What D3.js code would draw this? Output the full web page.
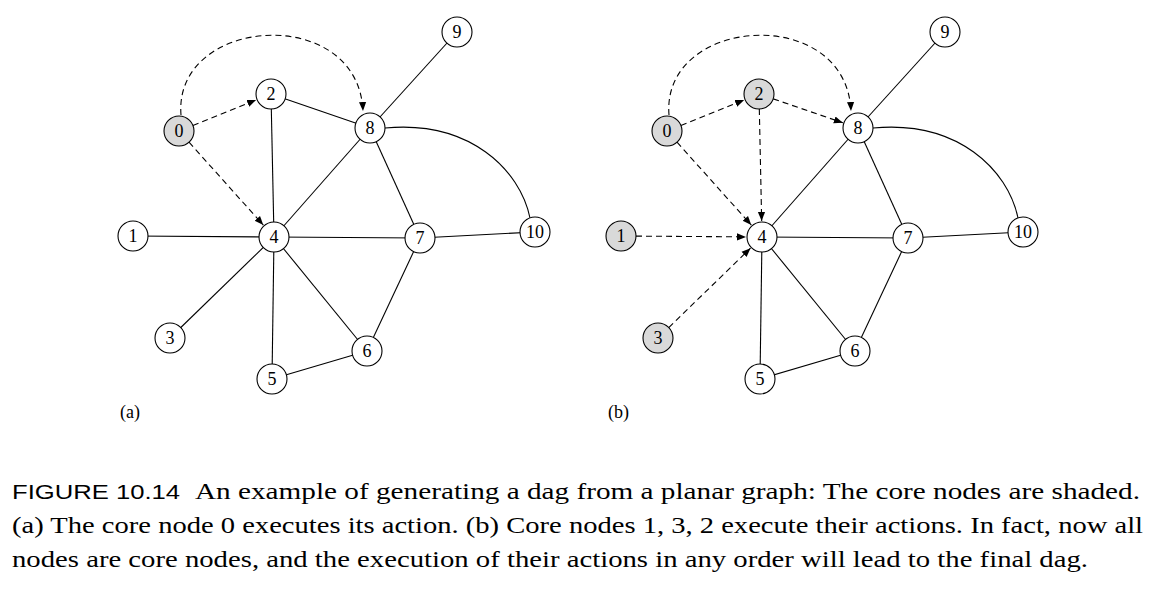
<!DOCTYPE html>
<html><head><meta charset="utf-8">
<script src="https://cdn.jsdelivr.net/npm/d3@7"></script>
<style>body{margin:0;background:#fff}</style>
</head><body>
<script>
// node layout (graph coordinates, panel a)
const nodeIds = [0,1,2,3,4,5,6,7,8,9,10];
const nodeX = [179,133,271,170,274,272,367,420,370,457,535];
const nodeY = [131,236,94,338,237,379,351,238,128,32,232];
const shadedA = [0];
const shadedB = [0,1,2,3];
const solidA = [[2,4],[2,8],[1,4],[4,8],[4,7],[4,3],[4,5],[4,6],[8,9],[8,7],[7,6],[7,10],[5,6]];
const dashedA = [[0,2],[0,4]];
const solidB = [[4,8],[4,7],[4,5],[4,6],[8,9],[8,7],[7,6],[7,10],[5,6]];
const dashedB = [[0,2],[2,8],[2,4],[0,4],[1,4],[3,4]];
const panelOffset = [0,488];
const panelLabels = ['(a)','(b)'];
const caption = [
  'An example of generating a dag from a planar graph: The core nodes are shaded.',
  '(a) The core node 0 executes its action. (b) Core nodes 1, 3, 2 execute their actions. In fact, now all',
  'nodes are core nodes, and the execution of their actions in any order will lead to the final dag.'
];
const captionWidths = [945,1131,1076];

const W=1153,H=590,R=15;
const svg=d3.select('body').append('svg').attr('width',W).attr('height',H);
svg.append('defs').append('marker').attr('id','ah').attr('viewBox','0 0 10 10')
  .attr('refX',10).attr('refY',5).attr('markerWidth',9).attr('markerHeight',9)
  .attr('markerUnits','userSpaceOnUse').attr('orient','auto')
  .append('path').attr('d','M0,1L10,5L0,9Z').attr('fill','#000');

const x=d3.scaleLinear().domain([0,1]).range([0,1]);
const y=d3.scaleLinear().domain([0,1]).range([0,1]);

[[solidA,dashedA,shadedA],[solidB,dashedB,shadedB]].forEach(([sol,dash,sh],p)=>{
  const g=svg.append('g').attr('transform',`translate(${panelOffset[p]},0)`);
  const px=i=>x(nodeX[i]), py=i=>y(nodeY[i]);
  g.selectAll('.s').data(sol).enter().append('line')
    .attr('x1',d=>px(d[0])).attr('y1',d=>py(d[0])).attr('x2',d=>px(d[1])).attr('y2',d=>py(d[1]))
    .attr('stroke','#000').attr('stroke-width',1.1);
  g.selectAll('.d').data(dash).enter().append('line')
    .each(function(d){
      const x1=px(d[0]),y1=py(d[0]),x2=px(d[1]),y2=py(d[1]);
      const L=Math.hypot(x2-x1,y2-y1),ux=(x2-x1)/L,uy=(y2-y1)/L;
      d3.select(this).attr('x1',x1+ux*R).attr('y1',y1+uy*R).attr('x2',x2-ux*(R+1)).attr('y2',y2-uy*(R+1));
    })
    .attr('stroke','#000').attr('stroke-width',1.1).attr('stroke-dasharray','6,4').attr('marker-end','url(#ah)');
  g.append('path').attr('d',`M${px(8)+15},${py(8)} C${px(8)+100},${py(8)-8} ${px(10)-15},${py(10)-62} ${px(10)-5},${py(10)-14}`)
    .attr('fill','none').attr('stroke','#000').attr('stroke-width',1.1);
  g.append('path').attr('d',`M${px(0)+2},${py(0)-16} C${px(0)-6},${py(0)-115} ${px(8)-12},${py(8)-125} ${px(8)-7},${py(8)-17}`)
    .attr('fill','none').attr('stroke','#000').attr('stroke-width',1.1).attr('stroke-dasharray','6,4').attr('marker-end','url(#ah)');
  const n=g.selectAll('.n').data(nodeIds).enter().append('g');
  n.append('circle').attr('cx',px).attr('cy',py).attr('r',R)
    .attr('fill',d=>sh.includes(d)?'#d9d9d9':'#fff').attr('stroke','#000').attr('stroke-width',1.1);
  n.append('text').attr('x',px).attr('y',d=>py(d)+6).attr('text-anchor','middle')
    .attr('font-family','Liberation Serif').attr('font-size',18).text(d=>d);
  g.append('text').attr('x',120).attr('y',418).attr('font-family','Liberation Serif').attr('font-size',18).text(panelLabels[p]);
});

const cap=svg.append('g').attr('font-family','Liberation Serif').attr('font-size',23);
cap.append('text').attr('x',12).attr('y',499).attr('font-family','Liberation Sans').attr('font-size',20)
  .attr('textLength',168).attr('lengthAdjust','spacingAndGlyphs').text('FIGURE 10.14');
[499,533,567].forEach((yy,i)=>{
  cap.append('text').attr('x',i===0?195:12).attr('y',yy)
    .attr('textLength',captionWidths[i]).attr('lengthAdjust','spacingAndGlyphs').text(caption[i]);
});
</script>
</body></html>
